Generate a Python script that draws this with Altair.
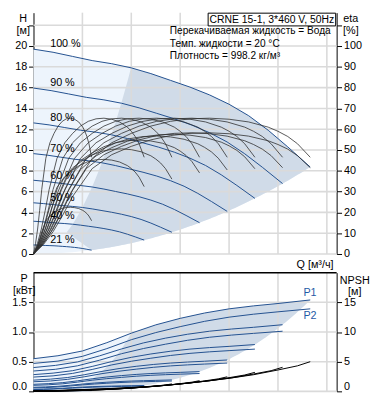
import altair as alt
import numpy as np
import pandas as pd

# ---------------- data ----------------
speeds = [1.00, 0.90, 0.80, 0.70, 0.60, 0.50, 0.40, 0.21]
speed_labels = ["100 %", "90 %", "80 %", "70 %", "60 %", "50 %", "40 %", "21 %"]

# Q-H curve at 100 % speed
q_base = [0, 2, 4, 6, 8, 10, 12, 14, 16, 18, 20, 22, 24, 26, 28.3]
h_base = [19.7, 19.4, 19.0, 18.6, 18.3, 17.9, 17.35, 16.7, 16.05, 15.3, 14.4, 13.3, 11.9, 10.3, 8.36]

# pump efficiency at 100 % speed
q_eta = [0, 1, 2, 3, 4, 6, 8, 10, 12, 14, 16, 18, 20, 22, 24, 25, 26, 27, 28.3]
eta_pump = [0, 5, 12, 21, 31, 46, 53.5, 58, 61.5, 63.8, 65, 65.3, 64.8, 63.5, 61, 59, 56.5, 53, 46.5]
# end value of the total efficiency curve for each speed
eta_total_end = [41.5, 41.5, 41.0, 40.4, 39.0, 36.0, 32.4, 16.0]

# power at 100 % speed
q_pow = [0, 2.5, 5, 7.5, 10, 12.5, 15, 17.5, 20, 22.5, 25, 28.3]
p1_base = [0.55, 0.60, 0.68, 0.82, 0.98, 1.12, 1.23, 1.32, 1.39, 1.44, 1.48, 1.54]
p2_base = [0.47, 0.51, 0.59, 0.72, 0.87, 0.99, 1.09, 1.18, 1.25, 1.30, 1.34, 1.39]

# NPSH at 100 % speed
q_npsh = [0, 2.5, 5, 7.5, 10, 12.5, 15, 17.5, 20, 22.5, 25, 27, 28.3]
npsh_base = [0.1, 0.15, 0.3, 0.45, 0.65, 0.9, 1.25, 1.7, 2.2, 2.8, 3.6, 4.3, 5.0]

# operating-area boundary (left parabola H = k*Q^2 and its lower corner)
k_left = 0.18
corner_q = 3.4

q_ticks = [0, 5, 10, 15, 20, 25, 30]
h_ticks = [0, 2, 4, 6, 8, 10, 12, 14, 16, 18, 20, 22]
eta_ticks = [0, 10, 20, 30, 40, 50, 60, 70, 80, 90, 100, 110]
p_ticks = [0, 0.5, 1.0, 1.5]
npsh_ticks = [0, 5, 10, 15]

title_text = "CRNE 15-1, 3*460 V, 50Hz"
info_lines = ["Перекачиваемая жидкость = Вода", "Темп. жидкости = 20 °C", "Плотность = 998.2 кг/м³"]
q_title = "Q [м³/ч]"

# ---------------- styling ----------------
FONT = "Liberation Sans"
LIGHT = "#edf4fc"
DARK = "#d0dbe8"
GRID = "#dadada"
BLUE = "#22508f"
ETA_C = "#2e2e2e"
LBLUE = "#1f5aa6"

W = 309
H_TOP = 246
H_BOT = 121
Q_MAX = 31.0
H_MAX = H_TOP / 10.6
ETA_MAX = H_MAX * 5
P_MAX = 2.0
N_MAX = 20.0

# ---------------- derived tables ----------------
q_end = q_base[-1]
k_end = h_base[-1] / q_end ** 2

rows = []
for s, lab in zip(speeds, speed_labels):
    for q, h in zip(q_base, h_base):
        rows.append({"curve": lab, "q": q * s, "h": h * s * s})
qh_df = pd.DataFrame(rows)

rows = []
for i, (s, lab) in enumerate(zip(speeds, speed_labels)):
    f = eta_total_end[i] / eta_pump[-1]
    for q, e in zip(q_eta, eta_pump):
        rows.append({"curve": lab + " p", "q": q * s, "eta": e})
        rows.append({"curve": lab + " t", "q": q * s, "eta": e * f})
eta_df = pd.DataFrame(rows)

rows = []
for s, lab in zip(speeds, speed_labels):
    for q, p1, p2 in zip(q_pow, p1_base, p2_base):
        rows.append({"curve": lab + " P1", "q": q * s, "p": p1 * s ** 3})
        rows.append({"curve": lab + " P2", "q": q * s, "p": p2 * s ** 3})
pow_df = pd.DataFrame(rows)

rows = []
for s, lab in zip(speeds, speed_labels):
    for q, n in zip(q_npsh, npsh_base):
        rows.append({"curve": lab, "q": q * s, "n": n * s * s})
npsh_df = pd.DataFrame(rows)

qb = np.array(q_base)
light_df = pd.DataFrame({"q": qb, "top": h_base, "bot": k_end * qb ** 2})

qg = np.linspace(corner_q, q_end, 120)
q21_end = q_end * speeds[-1]
h21_end = h_base[-1] * speeds[-1] ** 2
line_low = np.interp(qg, [corner_q, q21_end], [k_left * corner_q ** 2, h21_end], right=0.0)
dark_df = pd.DataFrame({
    "q": qg,
    "top": np.minimum(np.interp(qg, q_base, h_base), k_left * qg ** 2),
    "bot": np.maximum(k_end * qg ** 2, line_low),
})

qq = np.linspace(0.01, q_end, 3000)
q_left = qq[np.argmax(k_left * qq ** 2 >= np.interp(qq, q_base, h_base))]
p_left = np.interp(q_left, q_pow, p1_base)
qp = np.array(q_pow)
plight_df = pd.DataFrame({"q": qp, "top": p1_base, "bot": p1_base[-1] * (qp / q_end) ** 3})
pdark_df = pd.DataFrame({
    "q": qg,
    "top": np.minimum(np.interp(qg, q_pow, p1_base), p_left * (qg / q_left) ** 3),
    "bot": p1_base[-1] * (qg / q_end) ** 3,
})

lab_df = pd.DataFrame({
    "q": [1.7] * len(speeds),
    "h": [h_base[0] * s * s + 0.45 for s in speeds],
    "t": speed_labels,
})
plab_df = pd.DataFrame({
    "q": [q_end - 0.7, q_end - 0.7],
    "p": [p1_base[-1] + 0.12, p2_base[-1] - 0.12],
    "t": ["P1", "P2"],
})

# ---------------- scales / axes ----------------
def xs():
    return alt.Scale(domain=[0, Q_MAX], nice=False, zero=False)

def sc(m):
    return alt.Scale(domain=[0, m], nice=False, zero=False)

AX = dict(domainColor="black", tickColor="black", labelColor="black", labelFont=FONT,
          labelFontSize=11, titleFont=FONT, titleFontSize=11, titleFontWeight="normal",
          titleColor="black", grid=False)

x_axis_top = alt.Axis(values=q_ticks, labelExpr="datum.value >= 30 ? '' : datum.label",
                      ticks=False, domain=False, labelPadding=4, labelFlush=False,
                      title=None, **AX)
h_axis = alt.Axis(orient="left", values=h_ticks, labelExpr="datum.value > 20 ? '' : datum.label",
                  tickSize=5, labelPadding=2, title=["H", "[м]"], titleAngle=0,
                  titleX=-11, titleY=0, titleAlign="center", titleBaseline="top",
                  titleLineHeight=12, **AX)
eta_axis = alt.Axis(orient="right", values=eta_ticks,
                    labelExpr="datum.value > 100 ? '' : datum.label",
                    tickSize=5, labelPadding=2, title=["eta", "[%]"], titleAngle=0,
                    titleX=14, titleY=0, titleAlign="center", titleBaseline="top",
                    titleLineHeight=12, **AX)
p_axis = alt.Axis(orient="left", values=p_ticks, format=".1f", tickSize=5, labelPadding=2,
                  labelFlush=True, labelFlushOffset=0,
                  title=["P", "[кВт]"], titleAngle=0, titleX=-10, titleY=0,
                  titleAlign="center", titleBaseline="top", titleLineHeight=12, **AX)
n_axis = alt.Axis(orient="right", values=npsh_ticks, tickSize=5, labelPadding=2,
                  labelFlush=True, labelFlushOffset=0,
                  title=["NPSH", "[м]"], titleAngle=0, titleX=18, titleY=2,
                  titleAlign="center", titleBaseline="top", titleLineHeight=11, **AX)

# ---------------- top panel ----------------
t_light = alt.Chart(light_df).mark_area(color=LIGHT).encode(
    x=alt.X("q:Q", scale=xs(), axis=None), y=alt.Y("top:Q", scale=sc(H_MAX), axis=None), y2="bot:Q")
t_dark = alt.Chart(dark_df).mark_area(color=DARK).encode(
    x=alt.X("q:Q", scale=xs(), axis=None), y=alt.Y("top:Q", scale=sc(H_MAX), axis=None), y2="bot:Q")
t_vgrid = alt.Chart(pd.DataFrame({"q": q_ticks[1:]})).mark_rule(color=GRID, strokeWidth=1.6).encode(
    x=alt.X("q:Q", scale=xs(), axis=None))
t_hgrid = alt.Chart(pd.DataFrame({"h": h_ticks})).mark_rule(color=GRID, strokeWidth=1.6).encode(
    y=alt.Y("h:Q", scale=sc(H_MAX), axis=None))
t_qh = alt.Chart(qh_df).mark_line(color=BLUE, strokeWidth=1).encode(
    x=alt.X("q:Q", scale=xs(), axis=x_axis_top),
    y=alt.Y("h:Q", scale=sc(H_MAX), axis=h_axis),
    detail="curve:N")
t_eta = alt.Chart(eta_df).mark_line(color=ETA_C, strokeWidth=0.8).encode(
    x=alt.X("q:Q", scale=xs(), axis=None),
    y=alt.Y("eta:Q", scale=sc(ETA_MAX), axis=eta_axis),
    detail="curve:N")
t_lab = alt.Chart(lab_df).mark_text(align="left", baseline="middle", font=FONT, fontSize=11,
                                    color="black").encode(
    x=alt.X("q:Q", scale=xs(), axis=None), y=alt.Y("h:Q", scale=sc(H_MAX), axis=None), text="t:N")
t_info = alt.Chart(pd.DataFrame({"t": ["\n".join(info_lines)]})).mark_text(
    align="left", baseline="middle", font=FONT, fontSize=10.3, lineBreak="\n", lineHeight=12.5,
    color="black").encode(x=alt.value(139), y=alt.value(19), text="t:N")
t_box = alt.Chart(pd.DataFrame({"t": [title_text]})).mark_rect(
    fill="white", stroke="black", strokeWidth=1).encode(
    x=alt.value(178), x2=alt.value(308), y=alt.value(0.5), y2=alt.value(13.5))
t_boxtxt = alt.Chart(pd.DataFrame({"t": [title_text]})).mark_text(
    align="center", baseline="middle", font=FONT, fontSize=10.6, color="black").encode(
    x=alt.value(243), y=alt.value(7.5), text="t:N")
t_qtitle = alt.Chart(pd.DataFrame({"t": [q_title]})).mark_text(
    align="center", baseline="middle", font=FONT, fontSize=11, color="black").encode(
    x=alt.value(287), y=alt.value(H_TOP + 11), text="t:N")

top = alt.layer(t_light, t_dark, t_vgrid, t_hgrid, t_qh, t_eta, t_lab, t_info, t_box, t_boxtxt,
                t_qtitle).resolve_scale(y="independent").properties(width=W, height=H_TOP)

# ---------------- bottom panel ----------------
b_light = alt.Chart(plight_df).mark_area(color=LIGHT).encode(
    x=alt.X("q:Q", scale=xs(), axis=None), y=alt.Y("top:Q", scale=sc(P_MAX), axis=None), y2="bot:Q")
b_dark = alt.Chart(pdark_df).mark_area(color=DARK).encode(
    x=alt.X("q:Q", scale=xs(), axis=None), y=alt.Y("top:Q", scale=sc(P_MAX), axis=None), y2="bot:Q")
b_vgrid = alt.Chart(pd.DataFrame({"q": q_ticks[1:]})).mark_rule(color=GRID, strokeWidth=1.6).encode(
    x=alt.X("q:Q", scale=xs(), axis=None))
b_hgrid = alt.Chart(pd.DataFrame({"p": p_ticks})).mark_rule(color=GRID, strokeWidth=1.6).encode(
    y=alt.Y("p:Q", scale=sc(P_MAX), axis=None))
b_topline = alt.Chart(pd.DataFrame({"p": [P_MAX]})).mark_rule(color="black", strokeWidth=1.5).encode(
    y=alt.Y("p:Q", scale=sc(P_MAX), axis=None))
b_pow = alt.Chart(pow_df).mark_line(color=BLUE, strokeWidth=1).encode(
    x=alt.X("q:Q", scale=xs(), axis=None),
    y=alt.Y("p:Q", scale=sc(P_MAX), axis=p_axis),
    detail="curve:N")
b_npsh = alt.Chart(npsh_df).mark_line(color="black", strokeWidth=1).encode(
    x=alt.X("q:Q", scale=xs(), axis=None),
    y=alt.Y("n:Q", scale=sc(N_MAX), axis=n_axis),
    detail="curve:N")
b_plab = alt.Chart(plab_df).mark_text(align="left", baseline="middle", font=FONT, fontSize=11,
                                      color=LBLUE).encode(
    x=alt.X("q:Q", scale=xs(), axis=None), y=alt.Y("p:Q", scale=sc(P_MAX), axis=None), text="t:N")

bottom = alt.layer(b_light, b_dark, b_vgrid, b_hgrid, b_topline, b_pow, b_npsh, b_plab
                   ).resolve_scale(y="independent").properties(width=W, height=H_BOT)

chart = alt.vconcat(top, bottom, spacing=2).properties(
    padding={"left": 3, "top": 0, "right": 0, "bottom": 0}).configure_view(stroke=None)

chart.save("out.html", embed_options={"renderer": "svg", "actions": False})
